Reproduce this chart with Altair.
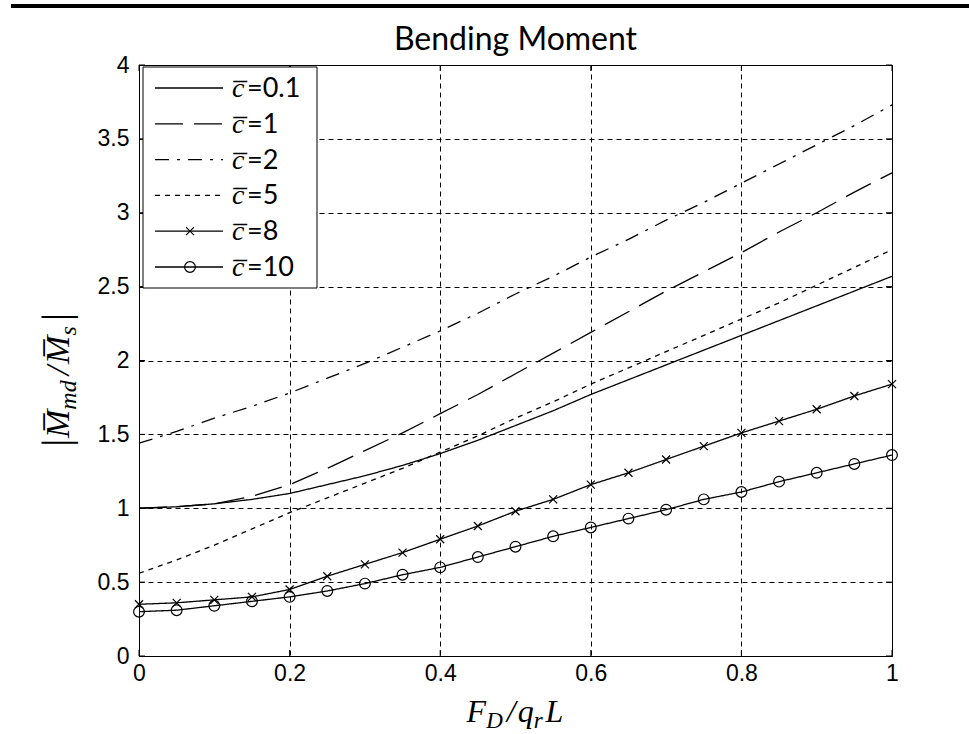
import altair as alt
import pandas as pd

# ---------------- data ----------------
x_vals = [0.0, 0.05, 0.1, 0.15, 0.2, 0.25, 0.3, 0.35, 0.4, 0.45, 0.5,
          0.55, 0.6, 0.65, 0.7, 0.75, 0.8, 0.85, 0.9, 0.95, 1.0]
series_names = ["c=0.1", "c=1", "c=2", "c=5", "c=8", "c=10"]
legend_values = ["0.1", "1", "2", "5", "8", "10"]

y_c01 = [1.00, 1.01, 1.03, 1.06, 1.10, 1.16, 1.22, 1.29, 1.37, 1.46, 1.56,
         1.66, 1.77, 1.87, 1.97, 2.07, 2.17, 2.27, 2.37, 2.47, 2.57]
y_c1 = [1.00, 1.01, 1.03, 1.08, 1.16, 1.27, 1.39, 1.51, 1.64, 1.77, 1.91,
        2.05, 2.19, 2.33, 2.47, 2.60, 2.73, 2.87, 3.00, 3.14, 3.27]
y_c2 = [1.44, 1.52, 1.61, 1.69, 1.78, 1.88, 1.98, 2.09, 2.20, 2.32, 2.45,
        2.57, 2.70, 2.82, 2.95, 3.07, 3.20, 3.33, 3.46, 3.59, 3.73]
y_c5 = [0.56, 0.65, 0.75, 0.86, 0.97, 1.07, 1.17, 1.27, 1.38, 1.49, 1.61,
        1.72, 1.84, 1.95, 2.06, 2.17, 2.28, 2.39, 2.51, 2.63, 2.75]
y_c8 = [0.35, 0.36, 0.38, 0.40, 0.45, 0.54, 0.62, 0.70, 0.79, 0.88, 0.98,
        1.06, 1.16, 1.24, 1.33, 1.42, 1.51, 1.59, 1.67, 1.76, 1.84]
y_c10 = [0.30, 0.31, 0.34, 0.37, 0.40, 0.44, 0.49, 0.55, 0.60, 0.67, 0.74,
         0.81, 0.87, 0.93, 0.99, 1.06, 1.11, 1.18, 1.24, 1.30, 1.36]

x_ticks = [0, 0.2, 0.4, 0.6, 0.8, 1.0]
y_ticks = [0, 0.5, 1, 1.5, 2, 2.5, 3, 3.5, 4]

all_y = [y_c01, y_c1, y_c2, y_c5, y_c8, y_c10]
rows = []
for name, ys in zip(series_names, all_y):
    for xv, yv in zip(x_vals, ys):
        rows.append({"x": xv, "y": yv, "series": name})
df = pd.DataFrame(rows)

# ---------------- styles ----------------
W, H = 753, 591
dashes = [[1, 0], [28, 11], [14, 8, 3, 8], [5, 5], [1, 0], [1, 0]]
X_PATH = "M -1 -1 L 1 1 M -1 1 L 1 -1"
markers = {"c=8": (X_PATH, 64), "c=10": ("circle", 115)}
LW = 1.3
one = alt.Data(values=[{"a": 1}])

X_ENC = alt.X("x:Q", scale=alt.Scale(domain=[0, 1], nice=False, zero=False),
              axis=alt.Axis(values=x_ticks, format="~g", title=None, grid=True,
                            ticks=False, tickSize=0, labelPadding=6,
                            labelFlush=False))
Y_ENC = alt.Y("y:Q", scale=alt.Scale(domain=[0, 4], nice=False),
              axis=alt.Axis(values=y_ticks, format="~g", title=None, grid=True,
                            ticks=False, tickSize=0, labelPadding=10))

lines = alt.Chart(df).mark_line(color="black", strokeWidth=LW).encode(
    x=X_ENC, y=Y_ENC,
    strokeDash=alt.StrokeDash("series:N",
                              scale=alt.Scale(domain=series_names, range=dashes),
                              legend=None),
    detail="series:N",
)

layers = [lines]
for name, (shape, size) in markers.items():
    layers.append(
        alt.Chart(df).transform_filter(alt.datum.series == name)
        .mark_point(shape=shape, size=size, filled=False, color="black",
                    strokeWidth=1.2, opacity=1)
        .encode(x=X_ENC, y=Y_ENC)
    )

# inside ticks (MATLAB style) on all four sides
xt = pd.DataFrame({"x": x_ticks})
yt = pd.DataFrame({"y": y_ticks})
for y0, y1 in [(H, H - 6), (0, 6)]:
    layers.append(alt.Chart(xt).mark_rule(color="black", strokeWidth=1)
                  .encode(x=X_ENC, y=alt.value(y0), y2=alt.value(y1)))
for x0, x1 in [(0, 6), (W, W - 6)]:
    layers.append(alt.Chart(yt).mark_rule(color="black", strokeWidth=1)
                  .encode(y=Y_ENC, x=alt.value(x0), x2=alt.value(x1)))


def text_layer(txt, x, y, size, font, style=None, angle=None,
               align="left", baseline="alphabetic"):
    kw = dict(text=txt, font=font, fontSize=size, align=align,
              baseline=baseline, color="black")
    if style:
        kw["fontStyle"] = style
    if angle is not None:
        kw["angle"] = angle
    return alt.Chart(one).mark_text(**kw).encode(x=alt.value(x), y=alt.value(y))


# ---------------- legend ----------------
layers.append(alt.Chart(one).mark_rect(fill="white", stroke="black", strokeWidth=1)
              .encode(x=alt.value(4), x2=alt.value(178),
                      y=alt.value(2), y2=alt.value(223)))
for i, (name, lab) in enumerate(zip(series_names, legend_values)):
    ry = 23 + i * 35.8
    rule_kw = dict(color="black", strokeWidth=LW)
    if dashes[i] != [1, 0]:
        rule_kw["strokeDash"] = dashes[i]
    layers.append(alt.Chart(one).mark_rule(**rule_kw)
                  .encode(x=alt.value(16), x2=alt.value(84), y=alt.value(ry)))
    if name in markers:
        shape, size = markers[name]
        layers.append(alt.Chart(one).mark_point(shape=shape, size=size, filled=False,
                                                color="black", strokeWidth=1.2,
                                                opacity=1)
                      .encode(x=alt.value(51), y=alt.value(ry)))
    layers.append(text_layer("c\u0305", 93, ry + 9, 28, "Liberation Serif", "italic"))
    layers.append(text_layer("=" + lab, 108, ry + 9, 27, "Lato"))

# ---------------- title ----------------
layers.append(text_layer("Bending Moment", W / 2, -15, 32, "Lato", align="center"))

# top black bar of the page
layers.append(alt.Chart(one).mark_rule(color="black", strokeWidth=4)
              .encode(x=alt.value(-128), x2=alt.value(830), y=alt.value(-59)))

# ---------------- axis titles (math, composed) ----------------
TW = {"F": .611, "D": .722, "/": .278, "q": .5, "r": .389, "L": .556,
      "M\u0305": .833, "md": 1.222, "s": .389, "|": .275}
SERIF = "Liberation Serif"

# x label: F_D / q_r L
S, s = 32, 23
xpieces = [("F", S, 0, 0), ("D", s, 6, 4), ("/", S, 0, 2), ("q", S, 0, 0),
           ("r", s, 6, 3), ("L", S, 0, 0)]
total = sum(TW[t] * sz + g for t, sz, _, g in xpieces)
cx = 376 - total / 2
for t, sz, sh, g in xpieces:
    layers.append(text_layer(t, cx, 657 + sh, sz, SERIF, "italic"))
    cx += TW[t] * sz + g

# y label: |M_md / M_s|  (rotated)
ypieces = [("|", 40, 0, 0), ("M\u0305", 34, 0, 0), ("md", 24, 7, 5),
           ("/", 34, 0, 2), ("M\u0305", 34, 0, 0), ("s", 24, 7, 3), ("|", 40, 0, 0)]
cy = 384
for t, sz, sh, g in ypieces:
    layers.append(text_layer(t, -70 + sh, cy, sz, SERIF, "italic", angle=270))
    cy -= TW[t] * sz + g

chart = alt.layer(*layers).properties(
    width=W, height=H,
    padding={"left": 139, "top": 65, "right": 77, "bottom": 78},
    autosize=alt.AutoSizeParams(type="none"),
    background="white",
).configure_view(stroke="black", strokeWidth=1).configure_axis(
    domainColor="black", domainWidth=1,
    gridColor="black", gridDash=[5, 4], gridWidth=1, gridOpacity=1,
    labelFont="Liberation Sans", labelFontSize=23, labelColor="black",
)

chart.save("out.html", embed_options={"renderer": "svg", "actions": False})
